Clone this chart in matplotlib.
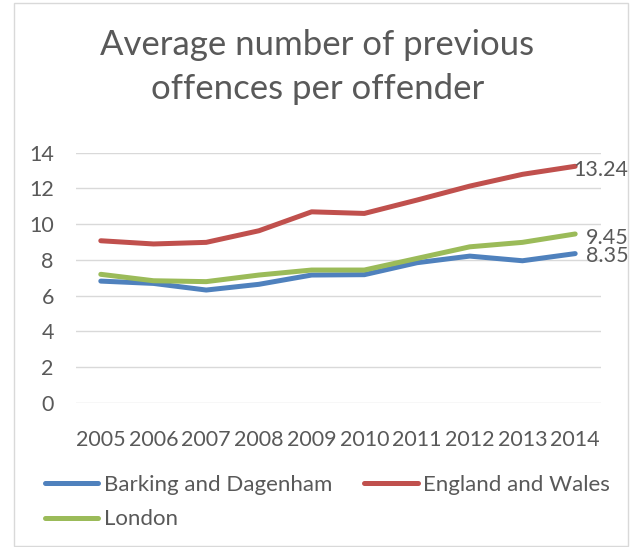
import matplotlib
matplotlib.use('Agg')
import matplotlib.pyplot as plt
from matplotlib.patches import Rectangle

# Data
years = ['2005', '2006', '2007', '2008', '2009', '2010', '2011', '2012', '2013', '2014']
barking = [6.81, 6.68, 6.31, 6.63, 7.15, 7.17, 7.84, 8.21, 7.95, 8.35]
england = [9.07, 8.89, 8.98, 9.63, 10.69, 10.60, 11.35, 12.13, 12.79, 13.24]
london = [7.19, 6.83, 6.78, 7.15, 7.43, 7.43, 8.08, 8.73, 8.98, 9.45]

series_names = ['Barking and Dagenham', 'England and Wales', 'London']
colors = ['#4F81BD', '#C0504D', '#9BBB59']
text_col = '#595959'

plt.rcParams['font.family'] = ['Lato', 'DejaVu Sans']

fig = plt.figure(figsize=(6.41, 5.47), dpi=100)
fig.patch.set_facecolor('white')

# chart border
fig.patches.append(Rectangle((14 / 641, 1 - 546 / 547), 614 / 641, 543 / 547,
                             transform=fig.transFigure, fill=False,
                             edgecolor='#D9D9D9', linewidth=1))

ax = fig.add_axes([0.1186, 0.2638, 0.819, 0.457])
x = list(range(len(years)))
lines = []
for vals, name, c in zip([barking, england, london], series_names, colors):
    ln, = ax.plot(x, vals, color=c, linewidth=3.6, solid_capstyle='round',
                  solid_joinstyle='round', label=name)
    lines.append(ln)

# end labels
for vals, dx, dy in [(england, -1, -3), (london, 8, -3), (barking, 8, -2)]:
    ax.annotate(f'{vals[-1]:.2f}', (x[-1], vals[-1]), xytext=(dx, dy),
                textcoords='offset points', ha='left', va='center',
                fontsize=15.5, color=text_col)

ax.set_xlim(-0.47, 9.49)
ax.set_ylim(0, 14)
ax.set_yticks(range(0, 15, 2))
ax.set_xticks(x)
ax.set_xticklabels(years)
ax.grid(axis='y', color='#D9D9D9', linewidth=1)
ax.set_axisbelow(True)
for s in ax.spines.values():
    s.set_visible(False)
ax.tick_params(length=0, labelsize=15.5, colors=text_col)
ax.tick_params(axis='y', pad=16)
ax.tick_params(axis='x', pad=20)

fig.text(0.495, 0.918, 'Average number of previous', ha='center', va='center',
         fontsize=25, color=text_col)
fig.text(0.495, 0.838, 'offences per offender', ha='center', va='center',
         fontsize=25, color=text_col)

# row-wise order: Barking, England / London
fig.legend(handles=[lines[0], lines[2], lines[1]], loc='upper left',
           bbox_to_anchor=(45 / 641, 1 - 475 / 547), borderaxespad=0,
           ncol=2, frameon=False, fontsize=16, handlelength=2.4,
           handletextpad=0.25, columnspacing=1.45, labelspacing=0.65,
           labelcolor=text_col, borderpad=0)

fig.savefig('out.png', dpi=100)
